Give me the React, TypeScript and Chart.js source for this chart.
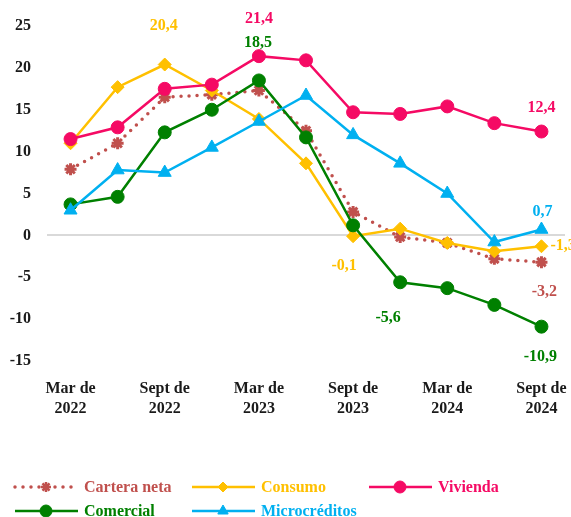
import React, { useEffect, useRef } from 'react';
import { Chart, registerables } from 'chart.js';
import { drawPoint } from 'chart.js/helpers';

Chart.register(...registerables);

const periods = [
  'Mar de 2022', 'Jun de 2022', 'Sept de 2022', 'Dic de 2022',
  'Mar de 2023', 'Jun de 2023', 'Sept de 2023', 'Dic de 2023',
  'Mar de 2024', 'Jun de 2024', 'Sept de 2024',
];

const carteraNeta = [7.9, 11.0, 16.5, 16.8, 17.3, 12.5, 2.8, -0.2, -0.9, -2.8, -3.2];
const consumo = [11.0, 17.7, 20.4, 17.3, 13.9, 8.6, -0.1, 0.8, -0.9, -1.9, -1.3];
const vivienda = [11.5, 12.9, 17.5, 18.0, 21.4, 20.9, 14.7, 14.5, 15.4, 13.4, 12.4];
const comercial = [3.7, 4.6, 12.3, 15.0, 18.5, 11.7, 1.2, -5.6, -6.3, -8.3, -10.9];
const microcreditos = [3.0, 7.8, 7.5, 10.5, 13.6, 16.7, 12.0, 8.6, 5.0, -0.8, 0.7];

const yMin = -15;
const yMax = 25;
const yStep = 5;

const FONT = "'Liberation Serif', 'Times New Roman', serif";

// value labels: dataset index, point index, offset
const valueLabels = [
  { ds: 1, i: 2, dx: -1, dy: -39, align: 'center' },
  { ds: 2, i: 4, dx: 0, dy: -37, align: 'center' },
  { ds: 3, i: 4, dx: -1, dy: -38, align: 'center' },
  { ds: 2, i: 10, dx: 0, dy: -24, align: 'center' },
  { ds: 4, i: 10, dx: 1, dy: -18, align: 'center' },
  { ds: 1, i: 6, dx: -9, dy: 30, align: 'center' },
  { ds: 3, i: 7, dx: -12, dy: 36, align: 'center' },
  { ds: 0, i: 10, dx: 3, dy: 30, align: 'center' },
  { ds: 3, i: 10, dx: -1, dy: 30, align: 'center' },
  { ds: 1, i: 10, dx: 9, dy: 0, align: 'left' },
];

const fmt = (v: number) => v.toFixed(1).replace('.', ',');

const labelPlugin = {
  id: 'valueLabels',
  afterDatasetsDraw(chart: any) {
    const ctx = chart.ctx;
    ctx.save();
    ctx.font = `bold 16px ${FONT}`;
    ctx.textBaseline = 'middle';
    valueLabels.forEach((l) => {
      const ds = chart.data.datasets[l.ds];
      const el = chart.getDatasetMeta(l.ds).data[l.i];
      ctx.fillStyle = ds.labelColor || ds.borderColor;
      ctx.textAlign = l.align;
      ctx.fillText(fmt(ds.data[l.i]), el.x + l.dx, el.y + l.dy);
    });
    ctx.restore();
  },
};

const legendOrder = [0, 1, 2, 3, 4];

const legendPlugin = {
  id: 'customLegend',
  afterDraw(chart: any) {
    const ctx = chart.ctx;
    ctx.save();
    ctx.font = `bold 16px ${FONT}`;
    ctx.textBaseline = 'middle';
    ctx.textAlign = 'left';
    legendOrder.forEach((dsIndex, k) => {
      const ds = chart.data.datasets[dsIndex];
      const col = k % 3;
      const row = Math.floor(k / 3);
      const x0 = 15 + col * 177;
      const y = chart.height - 30 + row * 24;
      ctx.save();
      ctx.strokeStyle = ds.borderColor;
      ctx.lineWidth = ds.borderWidth;
      ctx.lineCap = ds.borderCapStyle || 'butt';
      ctx.setLineDash(ds.borderDash || []);
      ctx.beginPath();
      ctx.moveTo(x0, y);
      ctx.lineTo(x0 + 63, y);
      ctx.stroke();
      ctx.restore();
      ctx.save();
      ctx.fillStyle = ds.pointBackgroundColor;
      ctx.strokeStyle = ds.pointBorderColor;
      ctx.lineWidth = ds.legendBorder || 1;
      drawPoint(ctx, { pointStyle: ds.pointStyle, radius: ds.legendRadius, borderWidth: ds.legendBorder || 1, rotation: 0 }, x0 + 31, y);
      ctx.restore();
      ctx.fillStyle = ds.borderColor;
      ctx.fillText(ds.label, x0 + 69, y + 1);
    });
    ctx.restore();
  },
};

export default function App() {
  const ref = useRef<HTMLCanvasElement>(null);

  useEffect(() => {
    if (!ref.current) return;
    const chart = new Chart(ref.current, {
      type: 'line',
      data: {
        labels: periods,
        datasets: [
          {
            label: 'Cartera neta',
            data: carteraNeta,
            borderColor: '#C0504D',
            backgroundColor: '#C0504D',
            borderWidth: 3.5,
            borderDash: [0, 8],
            borderCapStyle: 'round',
            pointStyle: 'star',
            pointRadius: 6,
            pointBorderWidth: 3,
            pointBackgroundColor: '#C0504D',
            pointBorderColor: '#C0504D',
            legendRadius: 5,
            legendBorder: 2.5,
            order: 5,
          } as any,
          {
            label: 'Consumo',
            data: consumo,
            borderColor: '#FFC000',
            backgroundColor: '#FFC000',
            borderWidth: 2.5,
            pointStyle: 'rectRot',
            pointRadius: 6.5,
            pointBorderWidth: 1,
            pointBackgroundColor: '#FFC000',
            pointBorderColor: '#FFC000',
            legendRadius: 5,
            order: 4,
          } as any,
          {
            label: 'Vivienda',
            data: vivienda,
            borderColor: '#F50A64',
            backgroundColor: '#F50A64',
            borderWidth: 2.5,
            pointStyle: 'circle',
            pointRadius: 6.5,
            pointBorderWidth: 1,
            pointBackgroundColor: '#F50A64',
            pointBorderColor: '#F50A64',
            legendRadius: 6,
            order: 3,
          } as any,
          {
            label: 'Comercial',
            data: comercial,
            borderColor: '#008000',
            backgroundColor: '#008000',
            borderWidth: 2.5,
            pointStyle: 'circle',
            pointRadius: 6.5,
            pointBorderWidth: 1,
            pointBackgroundColor: '#008000',
            pointBorderColor: '#008000',
            legendRadius: 6,
            order: 2,
          } as any,
          {
            label: 'Microcréditos',
            data: microcreditos,
            borderColor: '#00B0F0',
            backgroundColor: '#00B0F0',
            borderWidth: 2.5,
            pointStyle: 'triangle',
            pointRadius: 7.5,
            pointBorderWidth: 1,
            pointBackgroundColor: '#00B0F0',
            pointBorderColor: '#00B0F0',
            legendRadius: 6,
            order: 1,
          } as any,
        ],
      },
      options: {
        responsive: false,
        animation: false,
        layout: { autoPadding: false, padding: { top: 26, right: 6, left: 0, bottom: 0 } },
        plugins: {
          legend: { display: false },
          tooltip: { enabled: false },
        },
        scales: {
          x: {
            offset: true,
            grid: { display: false },
            border: { display: false },
            ticks: {
              autoSkip: false,
              maxRotation: 0,
              padding: 9,
              color: '#1a1a1a',
              font: { family: FONT, size: 16, weight: 'bold', lineHeight: 1.3 },
              callback: (_v: any, i: number) => {
                if (i % 2 !== 0) return '';
                const s = periods[i];
                const k = s.lastIndexOf(' ');
                return [s.slice(0, k), s.slice(k + 1)];
              },
            },
            afterFit: (scale: any) => {
              scale.height = 156;
              scale.paddingLeft = 0;
              scale.paddingRight = 0;
            },
          },
          y: {
            min: yMin,
            max: yMax,
            border: { display: false },
            grid: {
              drawTicks: false,
              lineWidth: 2,
              color: (c: any) => (c.tick && c.tick.value === 0 ? '#D9D9D9' : 'rgba(0,0,0,0)'),
            },
            ticks: {
              stepSize: yStep,
              padding: 16,
              color: '#1a1a1a',
              font: { family: FONT, size: 16, weight: 'bold' },
            },
            afterFit: (scale: any) => {
              scale.width = 47;
            },
          },
        },
      } as any,
      plugins: [labelPlugin, legendPlugin],
    });
    return () => chart.destroy();
  }, []);

  return (
    <div style={{ position: 'absolute', left: 0, top: 0, width: 571, height: 517, background: '#fff' }}>
      <canvas ref={ref} width={571} height={517} />
    </div>
  );
}
